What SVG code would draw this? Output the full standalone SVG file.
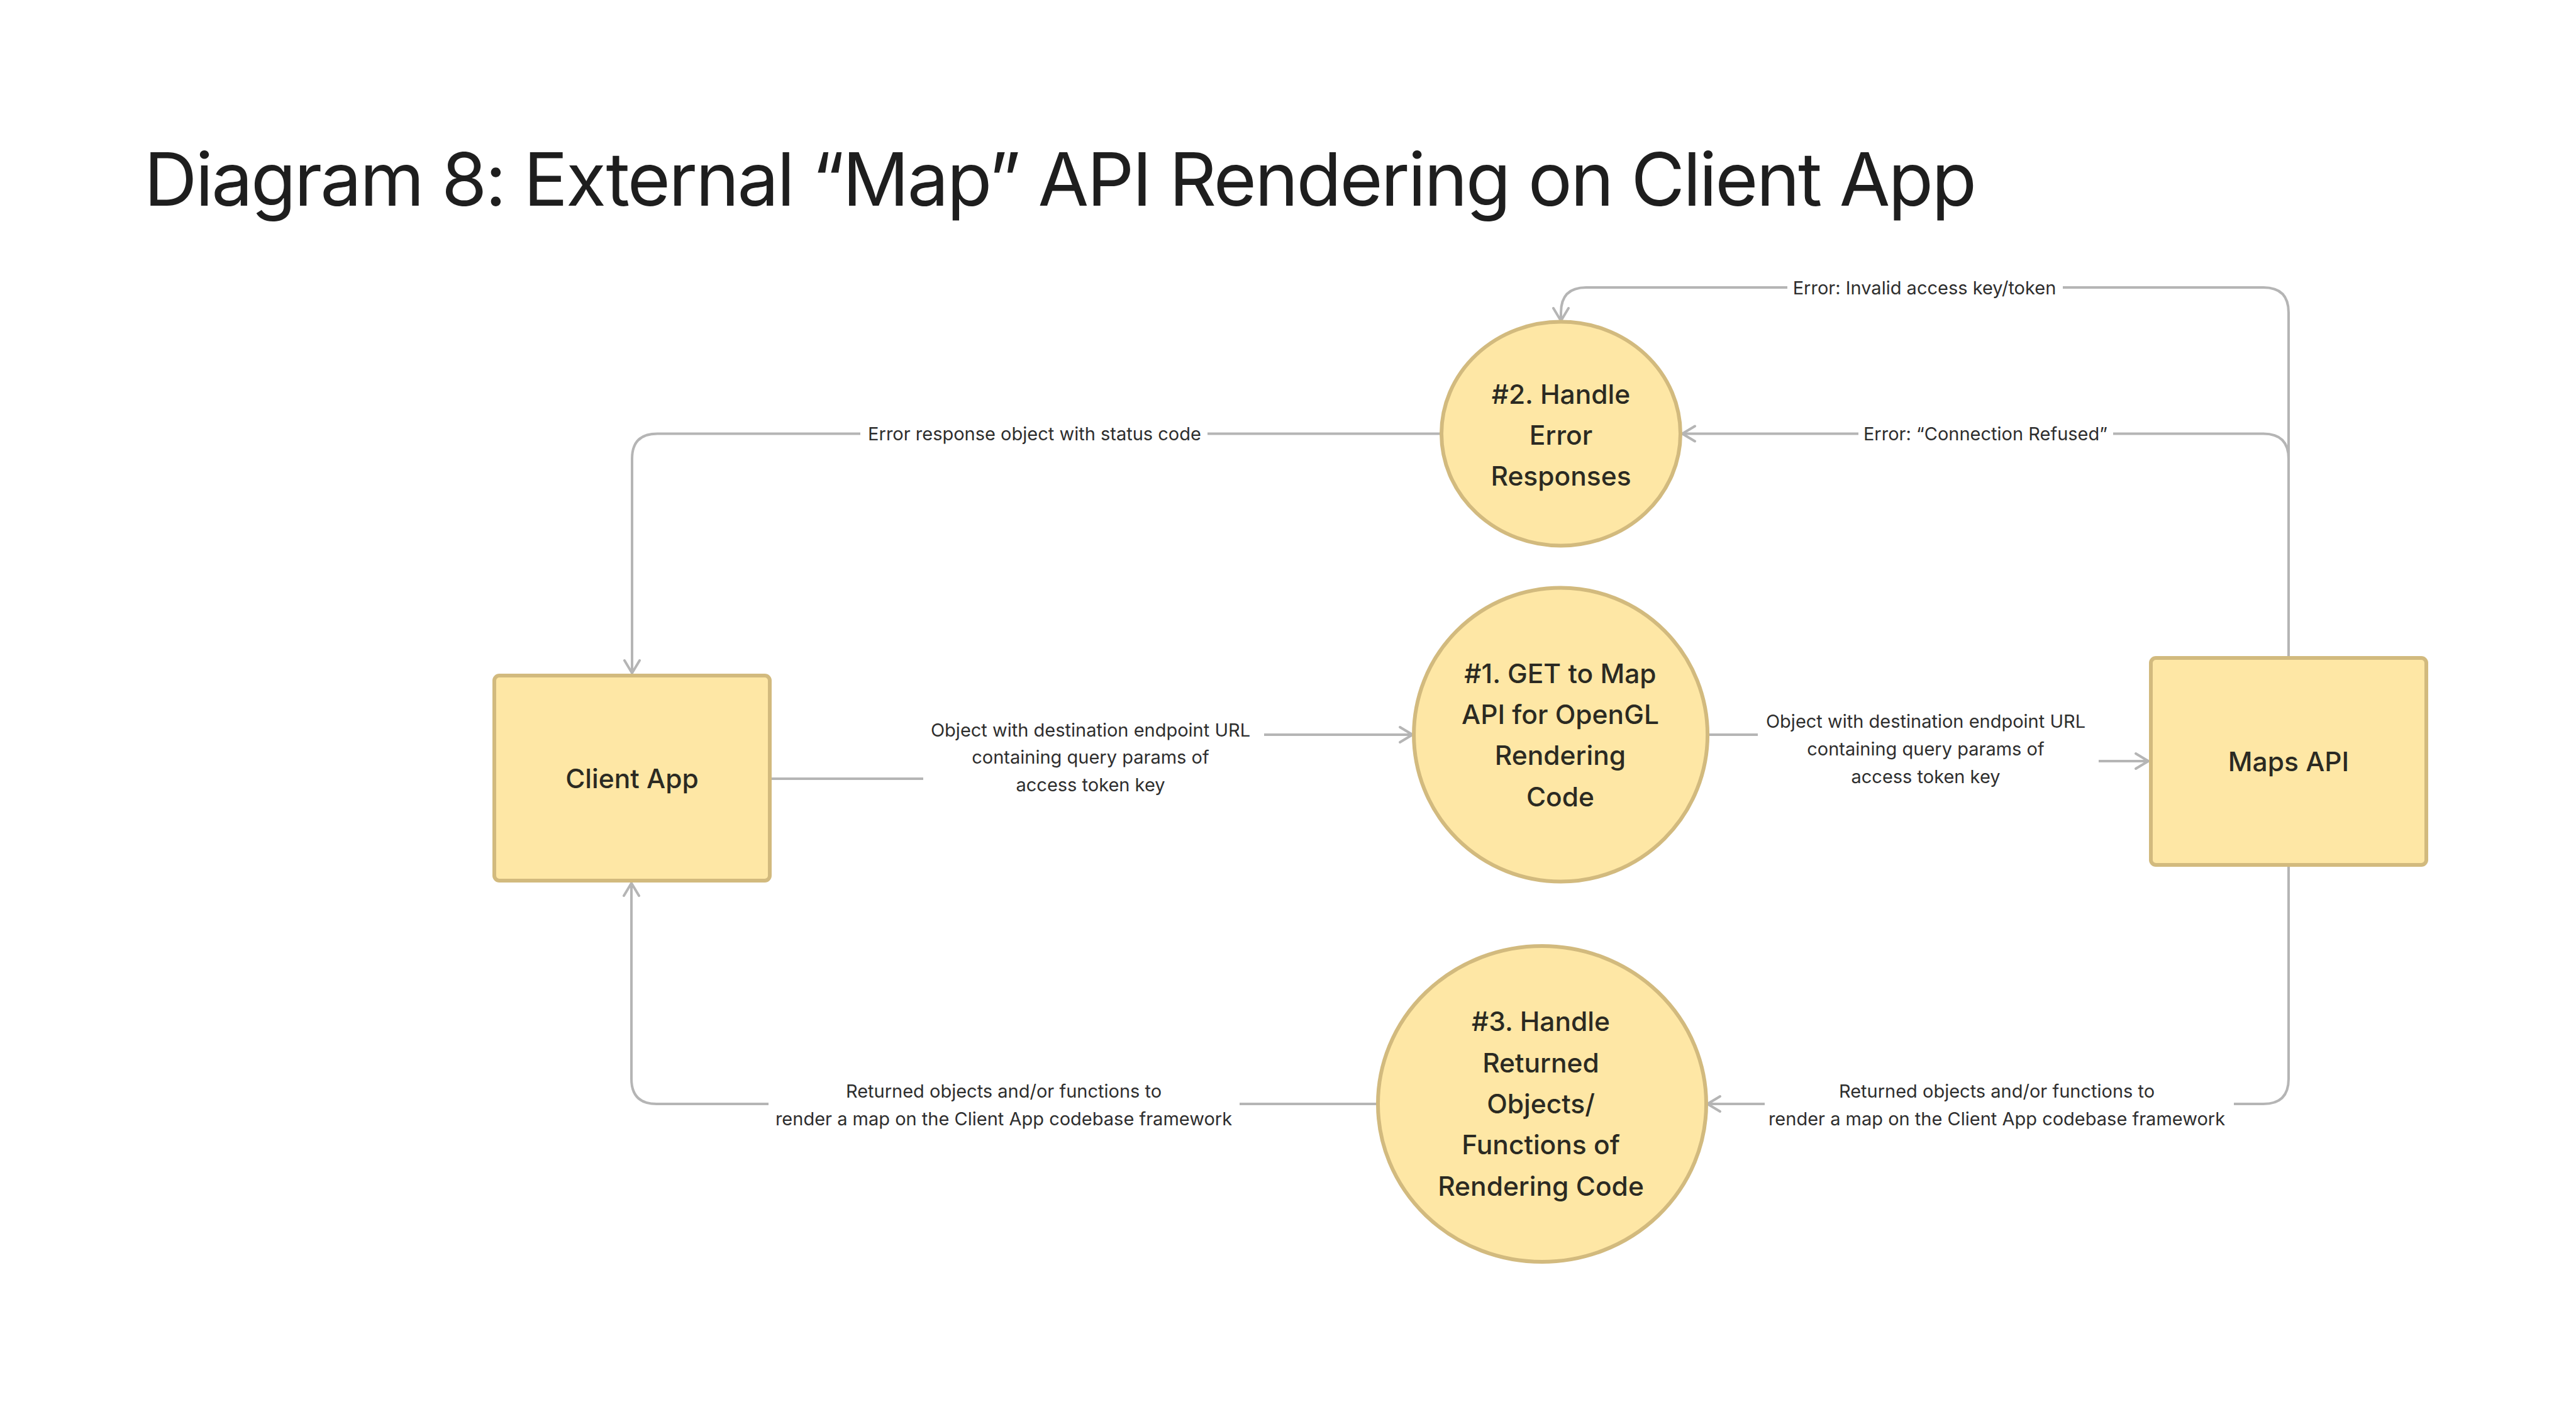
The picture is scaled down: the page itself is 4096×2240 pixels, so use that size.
<svg xmlns="http://www.w3.org/2000/svg" width="4096" height="2240" viewBox="0 0 4096 2240">
<defs>
<style>
.node{fill:#FEE7A5;stroke:#D2BA7E;stroke-width:6}
.ntext{font-family:Inter,"Noto Sans",sans-serif;font-size:42.5px;font-weight:500;fill:#2B2A22;text-anchor:middle}
.conn{fill:none;stroke:#B5B5B5;stroke-width:4;stroke-linecap:round;stroke-linejoin:round}
.ltext{font-family:Inter,"Noto Sans",sans-serif;font-size:29px;fill:#2E2E2E;text-anchor:middle}
.lbg{fill:#FFFFFF}
.title{font-family:Inter,"Noto Sans",sans-serif;font-size:117px;letter-spacing:-2.8px;fill:#1E1E1E}
</style>
<marker id="arr" viewBox="-26 -15 30 30" refX="0" refY="0" markerWidth="30" markerHeight="30" markerUnits="userSpaceOnUse" orient="auto">
<path d="M-20,-12 L0,0 L-20,12" fill="none" stroke="#B5B5B5" stroke-width="4" stroke-linecap="round" stroke-linejoin="round"/>
</marker>
</defs>
<rect width="4096" height="2240" fill="#FFFFFF"/>
<text class="title" x="229" y="327">Diagram 8: External “Map” API Rendering on Client App</text>

<g id="connectors">
<path class="conn" d="M2292,689.5 H1045 Q1005,689.5 1005,729.5 V1070" marker-end="url(#arr)"/>
<path class="conn" d="M3639,1045 V497 Q3639,457 3599,457 H2522 Q2482,457 2482,497 V510" marker-end="url(#arr)"/>
<path class="conn" d="M3639,1045 V729.5 Q3639,689.5 3599,689.5 H2675" marker-end="url(#arr)"/>
<path class="conn" d="M1226,1238 H1740 V1168 H2246" marker-end="url(#arr)"/>
<path class="conn" d="M2715,1168 H3200 V1210 H3416" marker-end="url(#arr)"/>
<path class="conn" d="M3639,1376 V1715 Q3639,1755 3599,1755 H2715" marker-end="url(#arr)"/>
<path class="conn" d="M2191,1755 H1044 Q1004,1755 1004,1715 V1404" marker-end="url(#arr)"/>

<rect class="lbg" x="1368" y="665" width="552" height="50"/>
<text class="ltext" x="1645" y="700">Error response object with status code</text>
<rect class="lbg" x="2842" y="432" width="438" height="50"/>
<text class="ltext" x="3060" y="468">Error: Invalid access key/token</text>
<rect class="lbg" x="2955" y="665" width="405" height="50"/>
<text class="ltext" x="3157" y="700">Error: “Connection Refused”</text>
<rect class="lbg" x="1468" y="1130" width="542" height="140"/>
<text class="ltext" x="1734" y="1171">Object with destination endpoint URL</text>
<text class="ltext" x="1734" y="1214">containing query params of</text>
<text class="ltext" x="1734" y="1258">access token key</text>
<rect class="lbg" x="2795" y="1115" width="542" height="140"/>
<text class="ltext" x="3062" y="1157">Object with destination endpoint URL</text>
<text class="ltext" x="3062" y="1201">containing query params of</text>
<text class="ltext" x="3062" y="1245">access token key</text>
<rect class="lbg" x="2806" y="1705" width="746" height="100"/>
<text class="ltext" x="3175" y="1745">Returned objects and/or functions to</text>
<text class="ltext" x="3175" y="1789">render a map on the Client App codebase framework</text>
<rect class="lbg" x="1222" y="1705" width="749" height="100"/>
<text class="ltext" x="1596" y="1745">Returned objects and/or functions to</text>
<text class="ltext" x="1596" y="1789">render a map on the Client App codebase framework</text>
</g>

<g id="client-app">
<rect class="node" x="786" y="1074" width="438" height="326" rx="8"/>
<text class="ntext" x="1005" y="1253">Client App</text>
</g>
<g id="maps-api">
<rect class="node" x="3420" y="1046" width="438" height="329" rx="8"/>
<text class="ntext" x="3639" y="1226">Maps API</text>
</g>
<g id="process-2">
<ellipse class="node" cx="2482" cy="689.5" rx="190" ry="178"/>
<text class="ntext" x="2482" y="642">#2. Handle</text>
<text class="ntext" x="2482" y="707">Error</text>
<text class="ntext" x="2482" y="772">Responses</text>
</g>
<g id="process-1">
<ellipse class="node" cx="2481.6" cy="1168" rx="233.5" ry="233.5"/>
<text class="ntext" x="2481" y="1086">#1. GET to Map</text>
<text class="ntext" x="2481" y="1151">API for OpenGL</text>
<text class="ntext" x="2481" y="1216">Rendering</text>
<text class="ntext" x="2481" y="1282">Code</text>
</g>
<g id="process-3">
<ellipse class="node" cx="2452" cy="1755" rx="261" ry="251"/>
<text class="ntext" x="2450" y="1639">#3. Handle</text>
<text class="ntext" x="2450" y="1705">Returned</text>
<text class="ntext" x="2450" y="1770">Objects/</text>
<text class="ntext" x="2450" y="1835">Functions of</text>
<text class="ntext" x="2450" y="1901">Rendering Code</text>
</g>
</svg>
